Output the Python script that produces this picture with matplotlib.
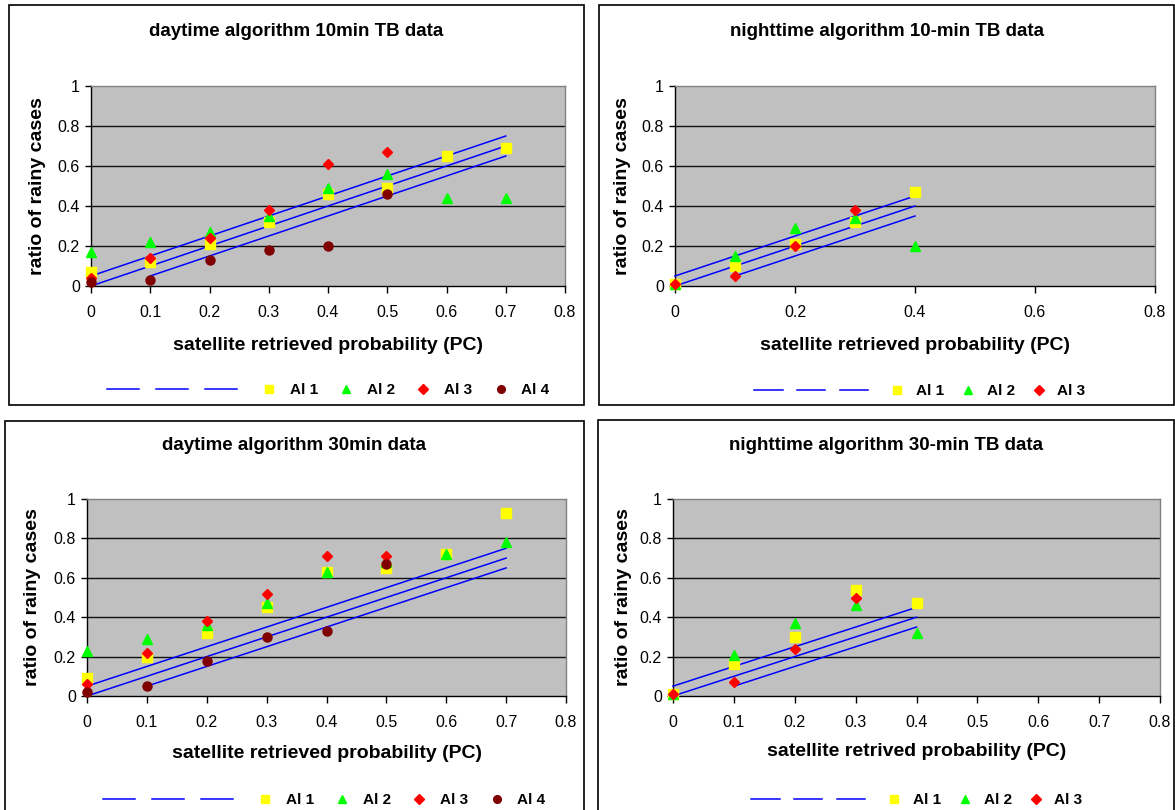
import matplotlib
matplotlib.use("Agg")
import matplotlib.pyplot as plt
from matplotlib.lines import Line2D
from matplotlib.patches import Rectangle

plt.rcParams['font.family'] = ['Liberation Sans', 'DejaVu Sans']

# ---------------- data ----------------
pc = [0.0, 0.1, 0.2, 0.3, 0.4, 0.5, 0.6, 0.7]

# daytime algorithm 10min TB data
day10_al1 = [0.07, 0.12, 0.21, 0.32, 0.46, 0.49, 0.65, 0.69]
day10_al2 = [0.17, 0.22, 0.27, 0.35, 0.49, 0.56, 0.44, 0.44]
day10_al3 = [0.04, 0.14, 0.24, 0.38, 0.61, 0.67]
day10_al4 = [0.02, 0.03, 0.13, 0.18, 0.20, 0.46]

# nighttime algorithm 10-min TB data
night10_al1 = [0.01, 0.10, 0.21, 0.32, 0.47]
night10_al2 = [0.01, 0.15, 0.29, 0.34, 0.20]
night10_al3 = [0.01, 0.05, 0.20, 0.38]

# daytime algorithm 30min data
day30_al1 = [0.09, 0.20, 0.32, 0.45, 0.63, 0.65, 0.72, 0.93]
day30_al2 = [0.23, 0.29, 0.36, 0.47, 0.63, 0.68, 0.72, 0.78]
day30_al3 = [0.06, 0.22, 0.38, 0.52, 0.71, 0.71]
day30_al4 = [0.02, 0.05, 0.18, 0.30, 0.33, 0.67]

# nighttime algorithm 30-min TB data
night30_al1 = [0.01, 0.16, 0.30, 0.54, 0.47]
night30_al2 = [0.01, 0.21, 0.37, 0.46, 0.32]
night30_al3 = [0.01, 0.07, 0.24, 0.50]

# reference lines (upper, diagonal, lower)
day_upper_x = [0.0, 0.7];  day_upper_y = [0.05, 0.75]
day_mid_x = [0.0, 0.7];    day_mid_y = [0.0, 0.7]
day_lower_x = [0.1, 0.7];  day_lower_y = [0.05, 0.65]
night_upper_x = [0.0, 0.4]; night_upper_y = [0.05, 0.45]
night_mid_x = [0.0, 0.4];   night_mid_y = [0.0, 0.4]
night_lower_x = [0.1, 0.4]; night_lower_y = [0.05, 0.35]

titles = ["daytime algorithm 10min TB data", "nighttime algorithm 10-min TB data",
          "daytime algorithm 30min data", "nighttime algorithm 30-min TB data"]
xlabels = ["satellite retrieved probability (PC)", "satellite retrieved probability (PC)",
           "satellite retrieved probability (PC)", "satellite retrived probability (PC)"]
ylabel = "ratio of rainy cases"
series_labels = ["Al 1", "Al 2", "Al 3", "Al 4"]
xticks_day = [0, 0.1, 0.2, 0.3, 0.4, 0.5, 0.6, 0.7, 0.8]
xticks_wide = [0, 0.2, 0.4, 0.6, 0.8]
yticks = [0, 0.2, 0.4, 0.6, 0.8, 1]

# ---------------- layout ----------------
W, H = 1175, 810
fig = plt.figure(figsize=(W / 100, H / 100), dpi=100)
fig.patch.set_facecolor('white')

def fx(px): return px / W
def fy(py): return 1 - py / H

panels = [
    dict(frame=(9, 5, 584, 405), ax=(91, 86, 565, 286), ty=32, xly=346, leg=(328, 390),
         ylx=38, hl=2.1, cs=0.8),
    dict(frame=(599, 5, 1174, 405), ax=(675, 86, 1155, 286), ty=32, xly=346, leg=(920, 391),
         ylx=622, hl=1.85, cs=0.65),
    dict(frame=(5, 421, 584, 812), ax=(87, 499, 566, 696), ty=446, xly=754, leg=(324, 800),
         ylx=33, hl=2.1, cs=0.8),
    dict(frame=(598, 420, 1174, 812), ax=(673, 499, 1160, 696), ty=446, xly=752, leg=(917, 800),
         ylx=623, hl=1.85, cs=0.65),
]

styles = [
    dict(marker='s', color='#FFFF00', ms=6.5),
    dict(marker='^', color='#00FF00', ms=7.5),
    dict(marker='D', color='#FF0000', ms=5.5),
    dict(marker='o', color='#800000', ms=6.5),
]

data = [
    ([day10_al1, day10_al2, day10_al3, day10_al4], 'day', xticks_day),
    ([night10_al1, night10_al2, night10_al3], 'night', xticks_wide),
    ([day30_al1, day30_al2, day30_al3, day30_al4], 'day', xticks_day),
    ([night30_al1, night30_al2, night30_al3], 'night', xticks_day),
]

for i, (p, (series, kind, xt)) in enumerate(zip(panels, data)):
    fl, ft, fr, fb = p['frame']
    fig.patches.append(Rectangle((fx(fl), fy(fb)), fx(fr - fl), (fb - ft) / H,
                                 transform=fig.transFigure, fill=False,
                                 edgecolor='black', linewidth=1.2, zorder=0))
    al, at, ar, ab = p['ax']
    ax = fig.add_axes([fx(al), fy(ab), fx(ar - al), (ab - at) / H])
    ax.set_facecolor('#C0C0C0')
    ax.set_xlim(0, 0.8)
    ax.set_ylim(0, 1)
    ax.set_xticks(xt)
    ax.set_xticklabels([('%g' % v) for v in xt])
    ax.set_yticks(yticks)
    ax.set_yticklabels([('%g' % v) for v in yticks])
    for yv in yticks[1:-1]:
        ax.axhline(yv, color='#111111', linewidth=1.0, zorder=1)
    for s in ['top', 'right']:
        ax.spines[s].set_color('#808080')
        ax.spines[s].set_linewidth(1.0)
    for s in ['left', 'bottom']:
        ax.spines[s].set_color('black')
        ax.spines[s].set_linewidth(1.0)
    ax.tick_params(axis='x', direction='out', length=5, width=1, pad=9, labelsize=11.5)
    ax.tick_params(axis='y', direction='out', length=4, width=1, pad=4, labelsize=11.5)

    if kind == 'day':
        lines = [(day_upper_x, day_upper_y), (day_mid_x, day_mid_y), (day_lower_x, day_lower_y)]
    else:
        lines = [(night_upper_x, night_upper_y), (night_mid_x, night_mid_y), (night_lower_x, night_lower_y)]
    for lx, ly in lines:
        ax.plot(lx, ly, color='#0000FF', linewidth=1.1, zorder=3, clip_on=False)

    for j, ys in enumerate(series):
        st = styles[j]
        ax.plot(pc[:len(ys)], ys, linestyle='none', marker=st['marker'],
                markersize=st['ms'], color=st['color'], markeredgecolor=st['color'],
                zorder=4, clip_on=False)

    fig.text(fx((fl + fr) / 2), fy(p['ty']), titles[i], ha='center', va='center',
             fontsize=13.5, fontweight='bold')
    ax.set_xlabel(xlabels[i], fontsize=14, fontweight='bold', va='center')
    ax.xaxis.set_label_coords(0.5, (ab - p['xly']) / (ab - at))
    ax.set_ylabel(ylabel, fontsize=14, fontweight='bold', va='center')
    ax.yaxis.set_label_coords((p['ylx'] - al) / (ar - al), 0.5)

    handles = [Line2D([], [], color='#0000FF', linewidth=1.1) for _ in range(3)]
    labels = ['', '', '']
    for j in range(len(series)):
        st = styles[j]
        handles.append(Line2D([], [], linestyle='none', marker=st['marker'],
                              markersize=st['ms'] * 0.85, color=st['color']))
        labels.append(series_labels[j])
    fig.legend(handles, labels, loc='center', ncol=len(handles),
               bbox_to_anchor=(fx(p['leg'][0]), fy(p['leg'][1])),
               frameon=False, handlelength=p['hl'], handletextpad=0.3,
               columnspacing=p['cs'], prop={'weight': 'bold', 'size': 11})

fig.savefig('out.png', dpi=100)
